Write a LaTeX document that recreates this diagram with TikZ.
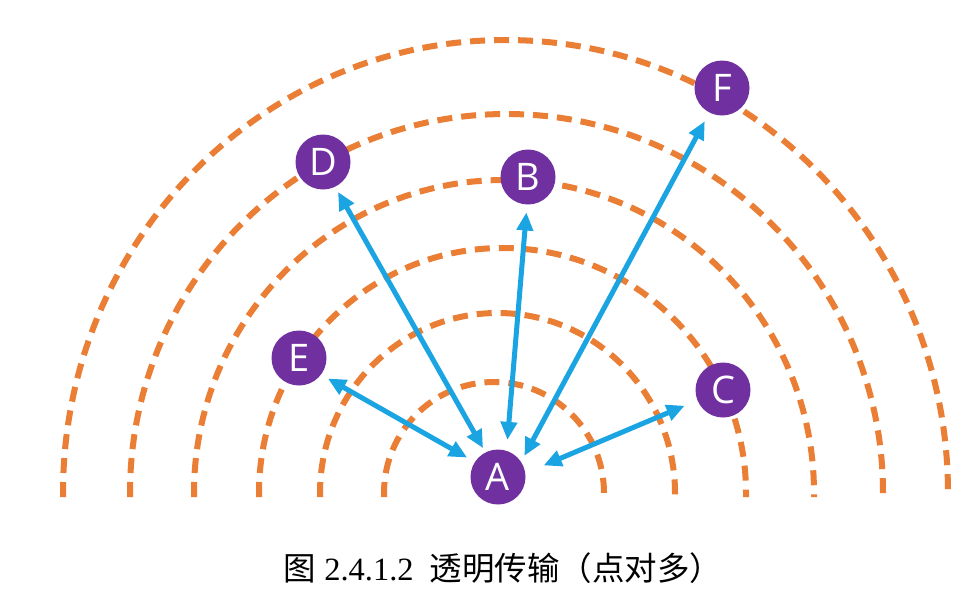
\documentclass[tikz,border=0pt]{standalone}
\usepackage{fontspec}
\setmainfont{Liberation Serif}
\newfontfamily\cjk{Noto Sans CJK SC}
\newfontfamily\lettfont{Open Sans}
\usetikzlibrary{arrows.meta}
\definecolor{wavecol}{RGB}{234,126,52}
\definecolor{nodecol}{RGB}{112,48,160}
\definecolor{linkcol}{RGB}{27,164,226}
\tikzset{
  wave/.style={draw=wavecol, line width=6pt, dash pattern=on 15pt off 9pt},
  station/.style={circle, fill=nodecol, minimum size=55pt, inner sep=0pt, outer sep=0pt,
    text=white, font=\lettfont\fontsize{38}{38}\selectfont},
  link/.style={draw=linkcol, line width=5pt,
    {Triangle[length=18pt,width=16pt]}-{Triangle[length=18pt,width=16pt]}},
}
\begin{document}
\begin{tikzpicture}[x=1pt,y=-1pt]
\useasboundingbox[fill=white] (0,0) rectangle (980,606);
% concentric waves
\foreach \cx/\rx/\ry in {494/110/111, 497.5/177.5/180, 502.5/243.5/245, 504/310/313, 506.5/376.5/379, 505.5/442.5/453}{
  \draw[wave] (\cx-\rx,497) -- (\cx-\rx,493) arc[start angle=180, end angle=360, x radius=\rx, y radius=\ry] -- ++(0,4);
}
% stations
\node[station] (A) at (498,477) {A};
\node[station] (B) at (528,177) {B};
\node[station] (C) at (723,390) {C};
\node[station] (D) at (323,162) {D};
\node[station] (E) at (299,358) {E};
\node[station] (F) at (722,88) {F};
% links
\draw[link, shorten <=5pt, shorten >=6pt] (A.117) -- (D.296);
\draw[link, shorten <=9pt, shorten >=8pt] (A.147) -- (E.323);
\draw[link, shorten <=11pt, shorten >=8pt] (A.72) -- (B.268);
\draw[link, shorten <=7pt, shorten >=10pt] (A.33) -- (F.243);
\draw[link, shorten <=20pt, shorten >=14pt] (A.8) -- (C.202);
% caption
\node[anchor=base, inner sep=0pt, font=\fontsize{32.5}{32.5}\selectfont] (cap) at (503,580)
  {{\cjk 图} 2.4.1.2\hspace{0.5em}{\cjk 透明传输（点对多）}};
\end{tikzpicture}
\end{document}
